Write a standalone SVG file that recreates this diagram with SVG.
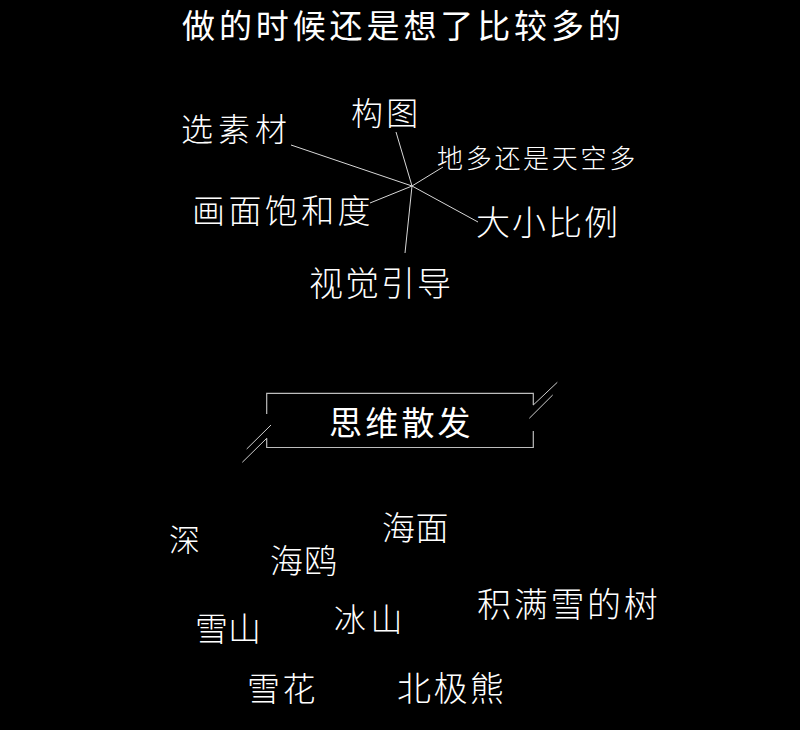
<svg xmlns="http://www.w3.org/2000/svg" width="800" height="730" viewBox="0 0 800 730">
<style>
text{font-family:"Noto Sans CJK SC","Liberation Sans",sans-serif;fill:#ffffff;font-weight:300}
.c{stroke:#d8d8d8;stroke-width:1;fill:none}
.b{stroke:#bdbdbd;stroke-width:1.2;fill:none}
.d{stroke:#cfcfcf;stroke-width:1;fill:none}
</style>
<rect x="0" y="0" width="800" height="730" fill="#000000"/>
<g id="title"><text x="182" y="38" font-size="33" letter-spacing="3.9" style="font-weight:400">做的时候还是想了比较多的</text></g>
<g id="connectors">
<line class="c" x1="291" y1="145" x2="412" y2="186"/>
<line class="c" x1="396" y1="132" x2="412" y2="186"/>
<line class="c" x1="443" y1="167" x2="412" y2="186"/>
<line class="c" x1="370" y1="203" x2="412" y2="186"/>
<line class="c" x1="478" y1="222" x2="412" y2="186"/>
<line class="c" x1="405" y1="253" x2="412" y2="186"/>
</g>
<g id="n-xuansucai"><text x="181" y="141" font-size="32" letter-spacing="5">选素材</text></g>
<g id="n-goutu"><text x="351" y="125" font-size="32" letter-spacing="3.3">构图</text></g>
<g id="n-diduo"><text x="437" y="168" font-size="26" letter-spacing="2.7">地多还是天空多</text></g>
<g id="n-huamian"><text x="192" y="223" font-size="33" letter-spacing="3.4">画面饱和度</text></g>
<g id="n-daxiao"><text x="476" y="235" font-size="34" letter-spacing="2">大小比例</text></g>
<g id="n-shijue"><text x="309" y="296" font-size="34" letter-spacing="2">视觉引导</text></g>
<g id="n-siwei">
<path class="b" d="M266.7 414 V393.3 H533.3 V405 M533.3 431 V447.5 H266.7 V438.3"/>
<line class="d" x1="271" y1="425" x2="246.7" y2="449"/>
<line class="d" x1="266.7" y1="438.3" x2="242.3" y2="462.3"/>
<line class="d" x1="533.3" y1="405" x2="557.3" y2="382.3"/>
<line class="d" x1="529.3" y1="418.3" x2="552.7" y2="395"/>
<text x="329" y="435" font-size="33" letter-spacing="3.2" style="font-weight:400">思维散发</text>
</g>
<g id="n-shen"><text x="169" y="551" font-size="31">深</text></g>
<g id="n-haimian"><text x="382" y="540" font-size="33" letter-spacing="0.6">海面</text></g>
<g id="n-haiou"><text x="270" y="573" font-size="33" letter-spacing="1">海鸥</text></g>
<g id="n-shu"><text x="477" y="617" font-size="34" letter-spacing="2.7">积满雪的树</text></g>
<g id="n-bingshan"><text x="334" y="631" font-size="32" letter-spacing="4.6">冰山</text></g>
<g id="n-xueshan"><text x="195" y="641" font-size="33">雪山</text></g>
<g id="n-xuehua"><text x="247" y="701" font-size="33" letter-spacing="2.6">雪花</text></g>
<g id="n-beijixiong"><text x="397" y="701" font-size="34" letter-spacing="2.4">北极熊</text></g>
</svg>
